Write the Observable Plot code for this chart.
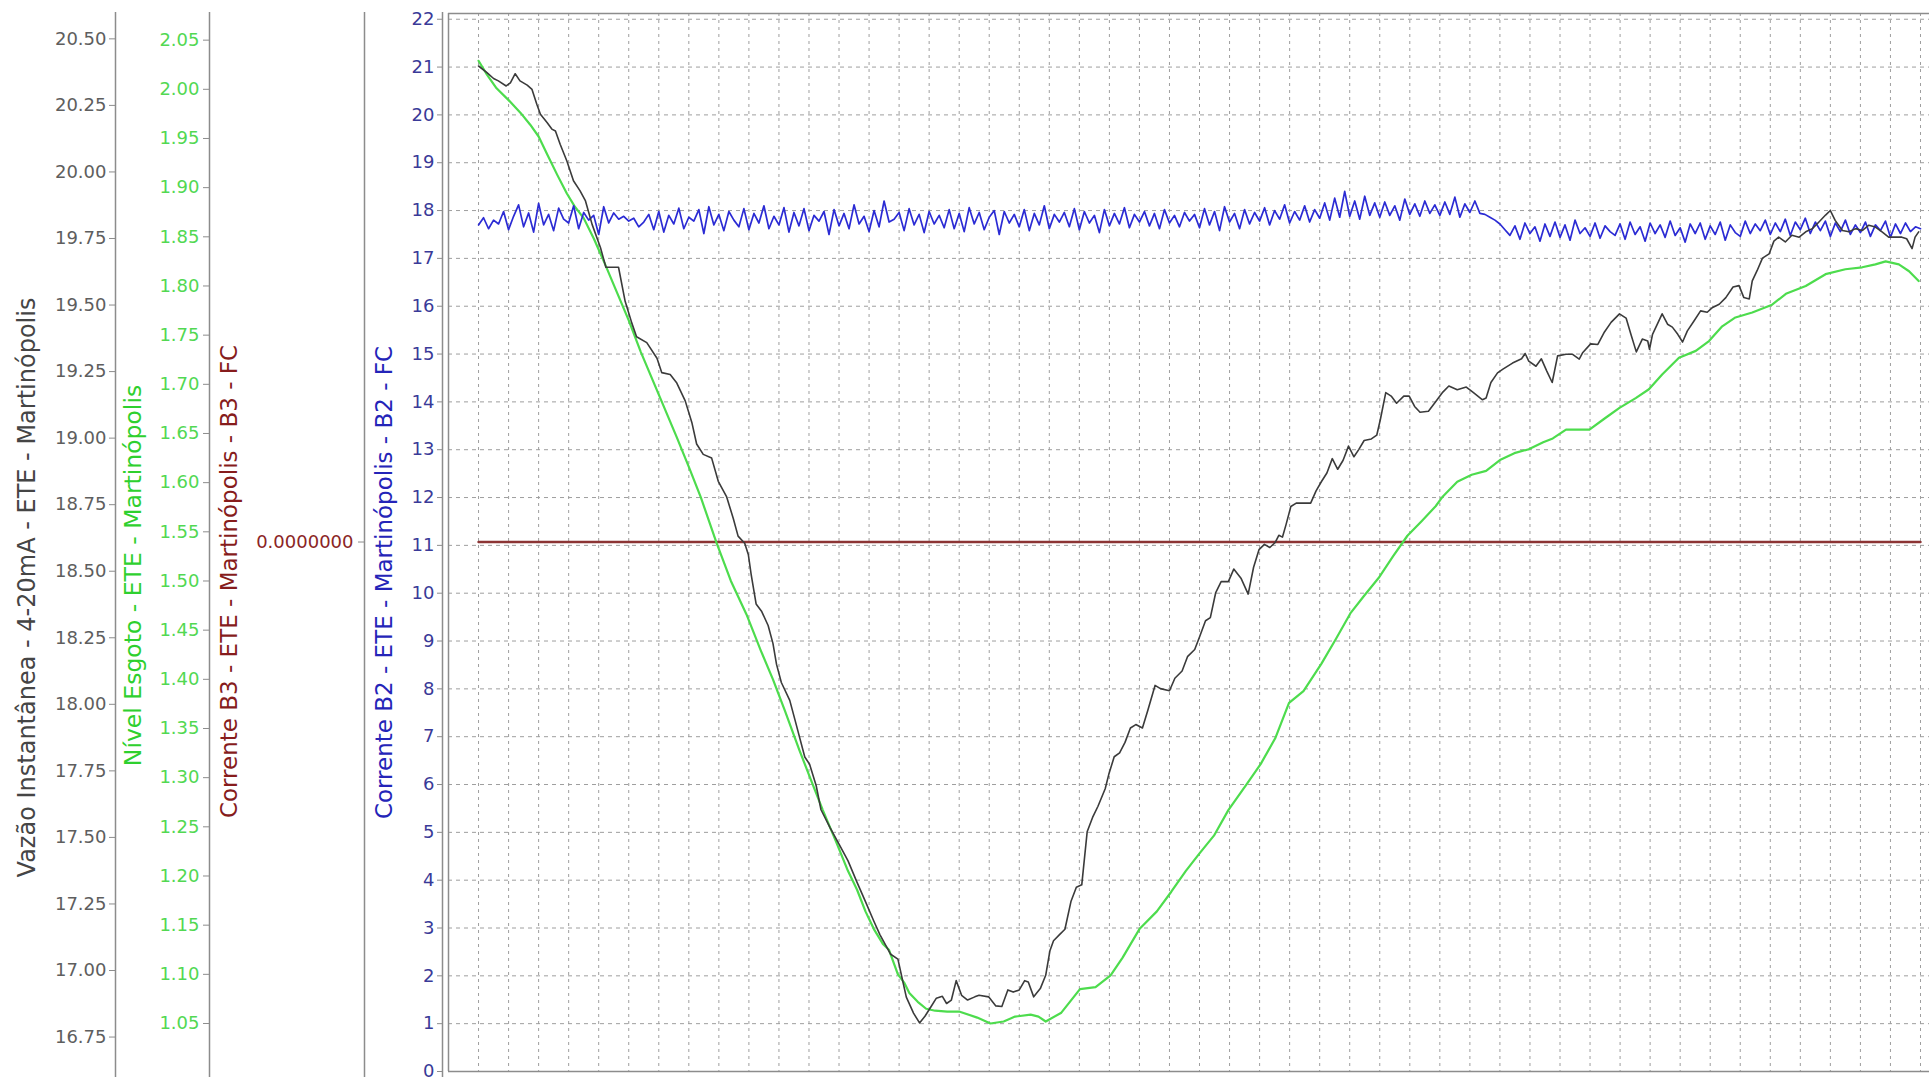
<!DOCTYPE html>
<html>
<head>
<meta charset="utf-8">
<script src="https://cdn.jsdelivr.net/npm/d3@7"></script>
<script src="https://cdn.jsdelivr.net/npm/@observablehq/plot@0.6"></script>
<style>
  html, body { margin: 0; padding: 0; background: #ffffff; }
  #chart svg { display: block; }
</style>
</head>
<body>
<div id="chart"></div>
<script>
// ---------------- DATA ----------------
// axis titles
const titleVazao = "Vazão Instantânea - 4-20mA - ETE - Martinópolis";
const titleNivel = "Nível Esgoto - ETE - Martinópolis";
const titleB3 = "Corrente B3 - ETE - Martinópolis - B3 - FC";
const titleB2 = "Corrente B2 - ETE - Martinópolis - B2 - FC";

// tick values of each vertical axis
const vazaoTicks = [16.75, 17.00, 17.25, 17.50, 17.75, 18.00, 18.25, 18.50, 18.75, 19.00, 19.25, 19.50, 19.75, 20.00, 20.25, 20.50];
const nivelTicks = [1.05, 1.10, 1.15, 1.20, 1.25, 1.30, 1.35, 1.40, 1.45, 1.50, 1.55, 1.60, 1.65, 1.70, 1.75, 1.80, 1.85, 1.90, 1.95, 2.00, 2.05];
const b3Ticks = [0];
const b2Ticks = [0, 1, 2, 3, 4, 5, 6, 7, 8, 9, 10, 11, 12, 13, 14, 15, 16, 17, 18, 19, 20, 21, 22];

// half-hour grid over 24 h (hours)
const gridHours = [0,0.5,1,1.5,2,2.5,3,3.5,4,4.5,5,5.5,6,6.5,7,7.5,8,8.5,9,9.5,10,10.5,11,11.5,12,12.5,13,13.5,14,14.5,15,15.5,16,16.5,17,17.5,18,18.5,19,19.5,20,20.5,21,21.5,22,22.5,23,23.5,24];

// where each secondary axis sits against the Corrente B2 scale
const vazaoAlign = {values: [16.75, 20.50], onB2: [0.72, 21.59]};
const nivelAlign = {values: [1.05, 2.05], onB2: [1.0036, 21.563]};
const b3ZeroOnB2 = 11.07;

// Vazão Instantânea series: [hour, value]
const vazaoSeries = [
[0.00,20.398],[0.14,20.373],[0.25,20.351],[0.33,20.342],[0.46,20.323],[0.53,20.335],[0.61,20.369],[0.69,20.342],[0.81,20.326],[0.89,20.310],
[0.97,20.254],[1.03,20.217],[1.14,20.186],[1.22,20.161],[1.28,20.154],[1.36,20.103],[1.47,20.041],[1.58,19.967],[1.69,19.929],[1.78,19.891],
[1.89,19.803],[2.03,19.715],[2.12,19.642],[2.33,19.642],[2.44,19.514],[2.55,19.433],[2.63,19.381],[2.80,19.359],[2.97,19.300],[3.05,19.246],
[3.19,19.239],[3.30,19.207],[3.44,19.140],[3.55,19.059],[3.63,18.978],[3.74,18.939],[3.88,18.925],[3.99,18.838],[4.13,18.779],[4.24,18.698],
[4.32,18.632],[4.43,18.605],[4.49,18.563],[4.54,18.484],[4.62,18.377],[4.71,18.350],[4.82,18.296],[4.90,18.229],[4.96,18.150],[5.04,18.082],
[5.18,18.015],[5.29,17.922],[5.43,17.802],[5.51,17.775],[5.62,17.694],[5.70,17.604],[5.85,17.537],[6.00,17.475],[6.15,17.412],[6.30,17.331],
[6.44,17.259],[6.58,17.185],[6.68,17.135],[6.86,17.061],[6.98,17.043],[7.05,16.971],[7.12,16.900],[7.24,16.840],[7.34,16.803],[7.43,16.828],
[7.52,16.860],[7.62,16.896],[7.72,16.903],[7.79,16.876],[7.87,16.889],[7.95,16.962],[8.04,16.907],[8.14,16.889],[8.26,16.901],[8.33,16.907],
[8.49,16.901],[8.61,16.867],[8.71,16.865],[8.81,16.927],[8.90,16.919],[9.00,16.927],[9.09,16.962],[9.15,16.957],[9.24,16.901],[9.35,16.932],
[9.44,16.982],[9.51,17.074],[9.57,17.112],[9.67,17.135],[9.76,17.155],[9.86,17.259],[9.95,17.313],[10.04,17.322],[10.13,17.521],[10.22,17.575],
[10.31,17.617],[10.43,17.683],[10.49,17.737],[10.58,17.803],[10.67,17.818],[10.76,17.857],[10.85,17.911],[10.94,17.924],[11.05,17.911],[11.14,17.978],
[11.26,18.071],[11.35,18.059],[11.50,18.051],[11.59,18.098],[11.71,18.125],[11.80,18.179],[11.92,18.206],[12.00,18.253],[12.10,18.314],[12.18,18.326],
[12.27,18.420],[12.36,18.461],[12.48,18.461],[12.57,18.508],[12.69,18.474],[12.81,18.414],[12.90,18.515],[12.99,18.581],[13.08,18.601],[13.17,18.589],
[13.26,18.608],[13.32,18.635],[13.38,18.628],[13.44,18.675],[13.52,18.743],[13.61,18.756],[13.85,18.756],[13.94,18.802],[14.03,18.837],[14.12,18.869],
[14.21,18.923],[14.30,18.883],[14.39,18.917],[14.48,18.970],[14.57,18.930],[14.65,18.957],[14.74,18.991],[14.86,18.997],[14.95,19.011],[15.01,19.070],
[15.10,19.171],[15.19,19.158],[15.28,19.131],[15.40,19.158],[15.49,19.158],[15.58,19.119],[15.67,19.097],[15.81,19.101],[15.93,19.137],[16.05,19.173],
[16.15,19.196],[16.29,19.182],[16.44,19.192],[16.56,19.171],[16.71,19.144],[16.77,19.151],[16.85,19.209],[16.96,19.245],[17.05,19.259],[17.21,19.282],
[17.36,19.298],[17.42,19.318],[17.48,19.289],[17.60,19.270],[17.69,19.298],[17.78,19.252],[17.87,19.209],[17.96,19.309],[18.10,19.315],[18.21,19.315],
[18.32,19.297],[18.38,19.322],[18.51,19.354],[18.63,19.352],[18.74,19.399],[18.85,19.435],[18.99,19.467],[19.10,19.451],[19.18,19.390],[19.27,19.324],
[19.37,19.372],[19.46,19.365],[19.49,19.334],[19.54,19.390],[19.62,19.428],[19.70,19.467],[19.79,19.428],[19.87,19.417],[19.96,19.390],[20.04,19.361],
[20.12,19.403],[20.23,19.440],[20.34,19.478],[20.45,19.473],[20.54,19.491],[20.65,19.503],[20.76,19.528],[20.88,19.568],[20.98,19.573],[21.06,19.528],
[21.15,19.523],[21.20,19.591],[21.28,19.629],[21.37,19.676],[21.48,19.692],[21.56,19.740],[21.64,19.755],[21.75,19.737],[21.86,19.762],[21.98,19.755],
[22.09,19.775],[22.20,19.787],[22.31,19.812],[22.42,19.838],[22.50,19.855],[22.58,19.818],[22.70,19.780],[22.81,19.775],[22.92,19.787],[23.03,19.780],
[23.14,19.800],[23.25,19.793],[23.36,19.775],[23.47,19.755],[23.58,19.755],[23.69,19.755],[23.77,19.749],[23.86,19.712],[23.91,19.755],[23.97,19.775]
];

// Nível Esgoto series: [hour, value]
const nivelSeries = [
[0.00,2.029],[0.14,2.015],[0.30,2.001],[0.50,1.989],[0.70,1.976],[0.86,1.964],[1.00,1.952],[1.15,1.933],[1.31,1.913],[1.47,1.894],
[1.60,1.881],[1.75,1.869],[1.92,1.848],[2.10,1.823],[2.30,1.794],[2.50,1.765],[2.70,1.733],[2.90,1.704],[3.10,1.675],[3.30,1.646],
[3.50,1.616],[3.70,1.585],[3.96,1.539],[4.20,1.500],[4.46,1.466],[4.70,1.429],[4.90,1.400],[5.10,1.368],[5.34,1.328],[5.55,1.295],
[5.73,1.267],[5.95,1.235],[6.15,1.205],[6.30,1.186],[6.44,1.164],[6.58,1.146],[6.73,1.131],[6.83,1.125],[6.98,1.100],[7.09,1.091],
[7.17,1.081],[7.31,1.072],[7.45,1.065],[7.60,1.063],[7.80,1.062],[8.01,1.062],[8.30,1.056],[8.52,1.050],[8.74,1.052],[8.93,1.057],
[9.19,1.059],[9.32,1.057],[9.44,1.052],[9.70,1.061],[10.01,1.085],[10.27,1.087],[10.52,1.099],[10.72,1.117],[11.00,1.146],[11.29,1.164],
[11.53,1.184],[11.77,1.205],[12.00,1.223],[12.24,1.241],[12.48,1.267],[12.78,1.293],[13.02,1.314],[13.26,1.340],[13.49,1.376],[13.73,1.388],
[14.03,1.416],[14.27,1.441],[14.51,1.467],[14.74,1.485],[14.98,1.503],[15.22,1.525],[15.46,1.546],[15.70,1.561],[15.93,1.576],[16.05,1.586],
[16.29,1.601],[16.53,1.608],[16.77,1.612],[17.00,1.623],[17.24,1.630],[17.48,1.634],[17.72,1.641],[17.88,1.645],[18.10,1.654],[18.49,1.654],
[18.76,1.666],[18.99,1.676],[19.26,1.686],[19.48,1.695],[19.70,1.710],[19.98,1.727],[20.26,1.734],[20.48,1.744],[20.70,1.759],[20.92,1.768],
[21.20,1.773],[21.53,1.781],[21.76,1.792],[22.09,1.800],[22.42,1.812],[22.75,1.817],[23.03,1.819],[23.25,1.822],[23.42,1.825],[23.64,1.822],
[23.81,1.815],[23.97,1.805]
];

// Corrente B3 series (flat): [hour, value]
const b3Series = [[0.00, 0], [24.00, 0]];

// Corrente B2 series: one reading every 5 minutes from 00:00
const b2StepMinutes = 5;
const b2Values = [
17.70,17.85,17.62,17.80,17.72,17.98,17.60,17.88,18.12,17.66,17.95,17.55,
18.15,17.70,17.92,17.58,18.05,17.82,17.74,18.10,17.62,17.96,17.80,17.90,
17.50,18.08,17.74,17.95,17.82,17.88,17.78,17.84,17.66,17.76,17.92,17.60,
17.98,17.55,17.90,17.72,18.05,17.62,17.86,17.78,18.02,17.52,18.08,17.70,
17.92,17.58,17.98,17.80,17.66,18.04,17.60,17.94,17.74,18.10,17.62,17.88,
17.70,18.06,17.55,17.96,17.68,18.04,17.58,17.90,17.78,17.98,17.50,18.02,
17.68,17.94,17.62,18.12,17.72,17.88,17.56,18.00,17.66,18.20,17.76,17.82,
17.96,17.58,18.04,17.70,17.92,17.54,17.98,17.72,17.90,17.64,18.02,17.62,
17.94,17.56,18.06,17.72,17.96,17.60,17.86,18.00,17.50,17.98,17.74,17.92,
17.66,18.02,17.58,17.94,17.70,18.10,17.62,17.92,17.76,17.96,17.66,18.04,
17.60,17.98,17.74,17.90,17.54,18.02,17.68,17.94,17.72,18.06,17.64,17.92,
17.76,17.98,17.68,17.94,17.62,18.02,17.74,17.90,17.66,17.96,17.78,17.92,
17.64,18.04,17.70,17.98,17.58,18.08,17.76,17.94,17.62,18.02,17.72,17.96,
17.78,18.06,17.70,18.00,17.82,18.12,17.74,17.98,17.80,18.10,17.76,18.02,
17.84,18.16,17.80,18.26,17.86,18.40,17.88,18.20,17.82,18.30,17.90,18.16,
17.86,18.18,17.90,18.10,17.80,18.24,17.92,18.14,17.88,18.20,17.94,18.12,
17.90,18.18,17.92,18.28,17.86,18.14,17.96,18.20,17.94,17.92,17.86,17.80,
17.72,17.60,17.48,17.68,17.40,17.74,17.52,17.66,17.36,17.72,17.46,17.76,
17.44,17.70,17.38,17.80,17.52,17.64,17.46,17.74,17.42,17.68,17.56,17.48,
17.72,17.40,17.76,17.50,17.66,17.36,17.74,17.52,17.70,17.44,17.78,17.48,
17.64,17.34,17.72,17.52,17.74,17.40,17.68,17.50,17.76,17.38,17.70,17.54,
17.46,17.78,17.52,17.72,17.58,17.80,17.50,17.74,17.56,17.82,17.48,17.76,
17.60,17.84,17.52,17.76,17.58,17.78,17.46,17.74,17.56,17.80,17.50,17.70,
17.54,17.76,17.46,17.70,17.58,17.78,17.44,17.72,17.52,17.74,17.56,17.66,
17.62
];

// ---------------- CHART ----------------
const xDomain = [-0.5, 24.15];
const yDomain = [0, 22.12];

const vazaoToB2 = d3.scaleLinear().domain(vazaoAlign.values).range(vazaoAlign.onB2);
const nivelToB2 = d3.scaleLinear().domain(nivelAlign.values).range(nivelAlign.onB2);
const b3ToB2 = v => b3ZeroOnB2 + v;

const font = "DejaVu Sans";
const axisLine = "#8c8c8c";
const gridColor = "#9e9e9e";

const axisBase = {anchor: "left", label: null, fontSize: 18, stroke: axisLine, tickSize: 6};
const titleBase = {text: d => d, frameAnchor: "left", textAnchor: "middle", lineAnchor: "middle", rotate: -90};

const chart = Plot.plot({
  width: 1929,
  height: 1077,
  marginLeft: 448,
  marginRight: 0,
  marginTop: 13,
  marginBottom: 6,
  style: {fontFamily: font, background: "#ffffff", overflow: "visible"},
  x: {domain: xDomain, axis: null},
  y: {domain: yDomain},
  marks: [
    // grid
    Plot.gridX(gridHours, {stroke: gridColor, strokeOpacity: 1, strokeDasharray: "3,4"}),
    Plot.gridY(b2Ticks.filter(d => d > 0), {stroke: gridColor, strokeOpacity: 1, strokeDasharray: "4,4"}),
    // plot frame (left, top, bottom)
    Plot.ruleX([xDomain[0]], {stroke: axisLine, strokeWidth: 1.5}),
    Plot.ruleY([yDomain[0], yDomain[1]], {stroke: axisLine, strokeWidth: 1.5}),
    // axis lines
    Plot.ruleX([xDomain[0]], {dx: -6, stroke: axisLine, strokeWidth: 1.5, insetTop: -1, insetBottom: -8}),
    Plot.ruleX([xDomain[0]], {dx: -84, stroke: axisLine, strokeWidth: 1.5, insetTop: -1, insetBottom: -8}),
    Plot.ruleX([xDomain[0]], {dx: -239, stroke: axisLine, strokeWidth: 1.5, insetTop: -1, insetBottom: -8}),
    Plot.ruleX([xDomain[0]], {dx: -333, stroke: axisLine, strokeWidth: 1.5, insetTop: -1, insetBottom: -8}),
    // axes
    Plot.axisY(b2Ticks, {...axisBase, dx: -6, tickSize: 5, tickPadding: 3, fill: "#3a3a98", tickFormat: d => String(d)}),
    Plot.axisY(b3Ticks.map(b3ToB2), {...axisBase, dx: -84, tickPadding: 5, fill: "#8b2525", tickFormat: () => "0.0000000"}),
    Plot.axisY(nivelTicks.map(nivelToB2), {...axisBase, dx: -239, tickPadding: 4, fill: "#52d852", tickFormat: d => nivelToB2.invert(d).toFixed(2)}),
    Plot.axisY(vazaoTicks.map(vazaoToB2), {...axisBase, dx: -333, tickPadding: 3, fill: "#5e5e5e", tickFormat: d => vazaoToB2.invert(d).toFixed(2)}),
    // axis titles
    Plot.text([titleVazao], {...titleBase, dx: -421, dy: 45, fontSize: 24, fill: "#454545"}),
    Plot.text([titleNivel], {...titleBase, dx: -315, dy: 33, fontSize: 23.5, fill: "#2ed02e"}),
    Plot.text([titleB3], {...titleBase, dx: -219, dy: 39, fontSize: 23, fill: "#861c1c"}),
    Plot.text([titleB2], {...titleBase, dx: -64, dy: 40, fontSize: 23, fill: "#2424b8"}),
    // series
    Plot.line(b3Series, {x: d => d[0], y: d => b3ToB2(d[1]), stroke: "#8c3434", strokeWidth: 2.4}),
    Plot.line(nivelSeries, {x: d => d[0], y: d => nivelToB2(d[1]), stroke: "#4ddc4d", strokeWidth: 2.2}),
    Plot.line(b2Values, {x: (d, i) => i * b2StepMinutes / 60, y: d => d, stroke: "#2b2bd4", strokeWidth: 1.7}),
    Plot.line(vazaoSeries, {x: d => d[0], y: d => vazaoToB2(d[1]), stroke: "#3b3b3b", strokeWidth: 1.6})
  ]
});

document.getElementById("chart").append(chart);
</script>
</body>
</html>
